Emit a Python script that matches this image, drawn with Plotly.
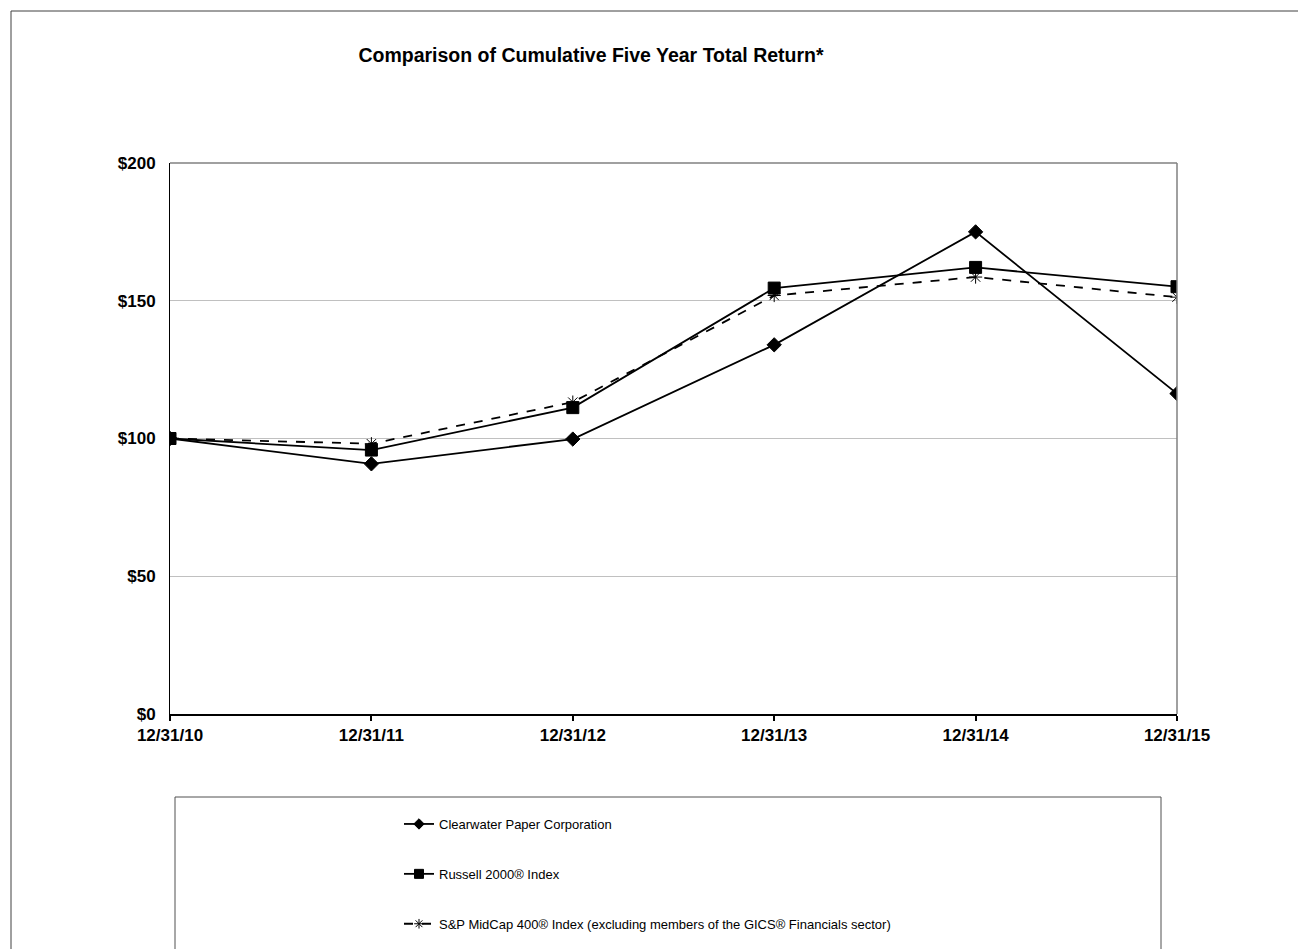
import plotly.graph_objects as go

dates = ["12/31/10", "12/31/11", "12/31/12", "12/31/13", "12/31/14", "12/31/15"]
clearwater = [100, 90.8, 99.8, 134.0, 175.0, 116.3]
russell = [100, 95.8, 111.2, 154.6, 162.1, 155.1]
sp_midcap = [100, 98.1, 113.2, 151.9, 158.6, 151.3]
names = [
    "Clearwater Paper Corporation",
    "Russell 2000® Index",
    "S&P MidCap 400® Index (excluding members of the GICS® Financials sector)",
]
y_ticks = [0, 50, 100, 150, 200]
y_ticktext = ["$0", "$50", "$100", "$150", "$200"]

FONT = "Liberation Sans, Arial, sans-serif"
W, H = 1306, 949
OFF = 8  # page body offset
SX0, SX1, SY0, SY1 = 170, 1177, 163, 714
L, T = SX0 - OFF, SY0 - OFF
R = W - (SX1 - OFF)
B = H - (SY1 - OFF)
PW, PH = SX1 - SX0, SY1 - SY0

def px(x):
    return (x - SX0) / PW

def py(y):
    return (SY1 - y) / PH

series = [clearwater, russell, sp_midcap]
symbols = ["diamond", "square", "asterisk-open"]
sizes = [11, 12, 11]
legend_sizes = [8, 9, 8]
dashes = ["solid", "solid", "dash"]
groups = ["a", "b", "c"]

fig = go.Figure()
for vals, name, sym, sz, dash, grp in zip(series, names, symbols, sizes, dashes, groups):
    fig.add_trace(go.Scatter(
        x=dates, y=vals, name=name, mode="lines+markers",
        line=dict(color="black", width=1.8, dash=dash),
        marker=dict(symbol=sym, size=sz, color="black",
                    line=dict(color="black", width=1)),
        legendgroup=grp, showlegend=False,
    ))
# legend entries (smaller markers, as in the original legend)
for name, sym, lsz, dash, grp in zip(names, symbols, legend_sizes, dashes, groups):
    fig.add_trace(go.Scatter(
        x=[None], y=[None], name=name, mode="lines+markers",
        line=dict(color="black", width=1.8, dash=dash),
        marker=dict(symbol=sym, size=lsz, color="black",
                    line=dict(color="black", width=1)),
        legendgroup=grp, showlegend=True,
    ))

shapes = [
    dict(type="rect", xref="paper", yref="paper",
         x0=px(11), x1=px(1400), y0=py(1100), y1=py(11),
         line=dict(color="#404040", width=1), layer="below"),
    dict(type="rect", xref="paper", yref="paper",
         x0=px(175), x1=px(1161), y0=py(1100), y1=py(797),
         line=dict(color="#505050", width=1), layer="below"),
    dict(type="line", xref="paper", yref="paper",
         x0=0, x1=1, y0=1, y1=1, line=dict(color="#808080", width=1.5)),
    dict(type="line", xref="paper", yref="paper",
         x0=1, x1=1, y0=0, y1=1, line=dict(color="#808080", width=1.5)),
]

fig.update_layout(
    width=W, height=H, autosize=False,
    margin=dict(l=L, r=R, t=T, b=B, pad=0),
    paper_bgcolor="white", plot_bgcolor="white",
    font=dict(family=FONT, color="black"),
    title=dict(
        text="<b>Comparison of Cumulative Five Year Total Return*</b>",
        x=(591 - OFF) / W, xref="container", xanchor="center",
        y=1 - (55 - OFF) / H, yref="container", yanchor="middle",
        font=dict(size=19.5, family=FONT, color="black"),
    ),
    xaxis=dict(
        type="category", range=[0, 5],
        showgrid=False, zeroline=False,
        showline=True, linecolor="black", linewidth=2,
        ticks="outside", ticklen=5, tickcolor="black", tickwidth=1.5,
        tickfont=dict(size=17, family=FONT, color="black", weight="bold"),
        ticklabelstandoff=0,
    ),
    yaxis=dict(
        range=[0, 200], tickvals=y_ticks, ticktext=y_ticktext,
        showgrid=True, gridcolor="#c0c0c0", gridwidth=1,
        zeroline=False,
        showline=True, linecolor="black", linewidth=1,
        ticks="",
        tickfont=dict(size=17, family=FONT, color="black", weight="bold"),
        ticklabelstandoff=10,
    ),
    legend=dict(
        x=px(399), xanchor="left", y=py(809), yanchor="top",
        orientation="v", tracegroupgap=30,
        font=dict(size=13, family=FONT, color="black"),
        bgcolor="rgba(0,0,0,0)", borderwidth=0,
        traceorder="grouped",
    ),
    shapes=shapes,
    showlegend=True,
)

fig.write_html("out.html")
